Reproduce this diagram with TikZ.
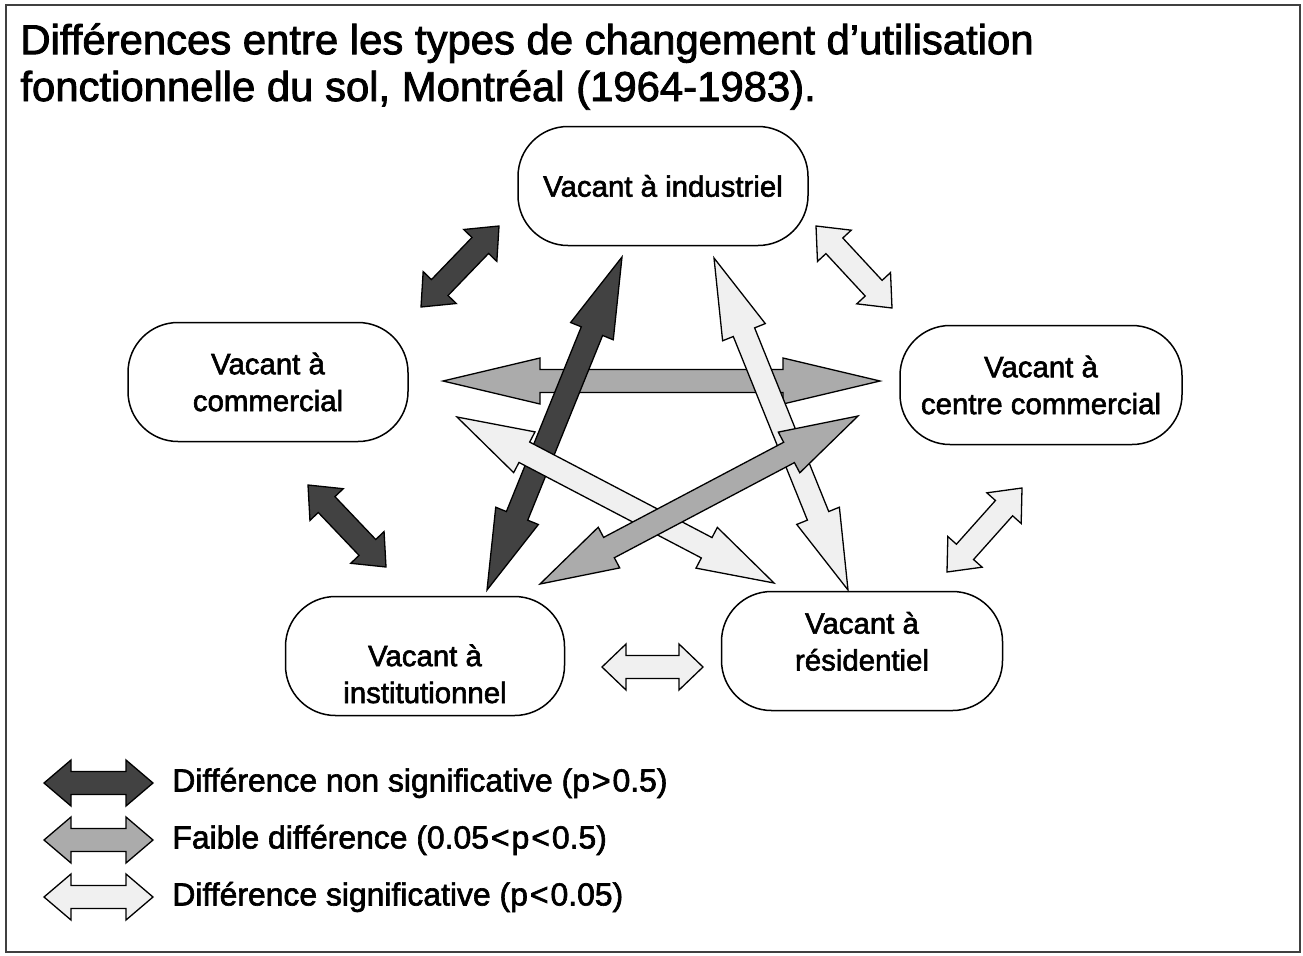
\documentclass[tikz,border=0pt]{standalone}
\usepackage{fontspec}
\setmainfont{Liberation Sans}[FakeBold=2]
\usetikzlibrary{calc}

\tikzset{
  nonsig/.style={draw,fill=black!74,line width=1.3bp,line join=miter},
  faible/.style={draw,fill=black!33,line width=1.3bp,line join=miter},
  signif/.style={draw,fill=black!6,line width=1.3bp,line join=miter},
}

\begin{document}
\begin{tikzpicture}[style=thick,x=1bp,y=-1bp]
			\newcommand{\ahw}{23bp}
			\newcommand{\asw}{11.5bp}
			\newcommand{\dblarrow}[4]{%
				\coordinate (h_a) at ($(#2)!#4!(#3)$);
				\coordinate (h_b) at ($(#3)!#4!(#2)$);
				\draw[#1] (#2) -- ($(h_a)!\ahw!90:(#3)$) -- ($(h_a)!\asw!90:(#3)$)
					-- ($(h_b)!\asw!-90:(#2)$) -- ($(h_b)!\ahw!-90:(#2)$) -- (#3)
					-- ($(h_b)!\ahw!90:(#2)$) -- ($(h_b)!\asw!90:(#2)$)
					-- ($(h_a)!\asw!-90:(#3)$) -- ($(h_a)!\ahw!-90:(#3)$) -- cycle;}
			\useasboundingbox (0,0) rectangle (1303,955);
			\draw[line width=1.2bp,black!75] (6,5) rectangle (1300,952);
			% titre
			\node[anchor=north west,inner sep=0,align=left,font=\fontsize{42}{47}\selectfont] (titre) at (20,23)
				{Différences entre les types de changement d’utilisation\\fonctionnelle du sol, Montréal (1964-1983).};
			\begin{scope}[shape=rectangle,rounded corners=50bp,minimum height=119bp,align=center]
				\tikzstyle{every node}=[draw,line width=1.5bp,font=\fontsize{29.5}{37}\selectfont]
				\node[minimum width=290bp] (V_ind) at (663,186) {Vacant à industriel};
				\node[minimum width=280bp] (V_com) at (268,382) {Vacant à\\commercial};
				\node[minimum width=282bp] (V_cc) at (1041,385) {Vacant à\\centre commercial};
				\node[minimum width=279bp,text height=94bp,text depth=0bp] (V_ins) at (425,656) {Vacant à\\institutionnel};
				\node[minimum width=281bp,text height=59bp,text depth=20bp] (V_res) at (862,651) {Vacant à\\résidentiel};
			\end{scope}
			% extremites des fleches
			\coordinate (com_ind) at (421,307); \coordinate (ind_com) at (499,226);
			\coordinate (ins_ind) at (487,590); \coordinate (ind_ins) at (622,257);
			\coordinate (com_cc) at (443,381);  \coordinate (cc_com) at (880,381);
			\coordinate (com_res) at (457,417); \coordinate (res_com) at (774,583);
			\coordinate (ins_cc) at (540,584);  \coordinate (cc_ins) at (858,416);
			\coordinate (ind_res) at (714,258); \coordinate (res_ind) at (848,590);
			\coordinate (ind_cc) at (816,226);  \coordinate (cc_ind) at (892,308);
			\coordinate (cc_res) at (1022,488); \coordinate (res_cc) at (947,572);
			\coordinate (com_ins) at (308,485); \coordinate (ins_com) at (386,567);
			\coordinate (ins_res) at (602,667); \coordinate (res_ins) at (703,667);
			\dblarrow{nonsig}{com_ind}{ind_com}{27bp}
			\dblarrow{nonsig}{com_ins}{ins_com}{27bp}
			\dblarrow{signif}{ind_cc}{cc_ind}{27bp}
			\dblarrow{signif}{cc_res}{res_cc}{27bp}
			\dblarrow{signif}{ins_res}{res_ins}{24bp}
			\dblarrow{faible}{com_cc}{cc_com}{97bp}
			\dblarrow{nonsig}{ins_ind}{ind_ins}{80bp}
			\dblarrow{signif}{ind_res}{res_ind}{80bp}
			\dblarrow{signif}{com_res}{res_com}{76bp}
			\dblarrow{faible}{ins_cc}{cc_ins}{78bp}
			% legende
			\coordinate (leg_1a) at (44,783); \coordinate (leg_1b) at (153,783);
			\coordinate (leg_2a) at (44,840); \coordinate (leg_2b) at (153,840);
			\coordinate (leg_3a) at (44,897); \coordinate (leg_3b) at (153,897);
			\dblarrow{nonsig}{leg_1a}{leg_1b}{27bp}
			\dblarrow{faible}{leg_2a}{leg_2b}{27bp}
			\dblarrow{signif}{leg_3a}{leg_3b}{27bp}
			\begin{scope}[font=\fontsize{32}{38}\selectfont]
				\tikzstyle{every node}=[anchor=west,inner sep=0]
				\node (L_1) at (172,783) {Différence non significative (p\kern2bp>\kern2bp0.5)};
				\node (L_2) at (172,840) {Faible différence (0.05\kern2bp<\kern2bp p\kern2bp<\kern2bp0.5)};
				\node (L_3) at (172,897) {Différence significative (p\kern2bp<\kern2bp0.05)};
			\end{scope}
		\end{tikzpicture}
\end{document}
